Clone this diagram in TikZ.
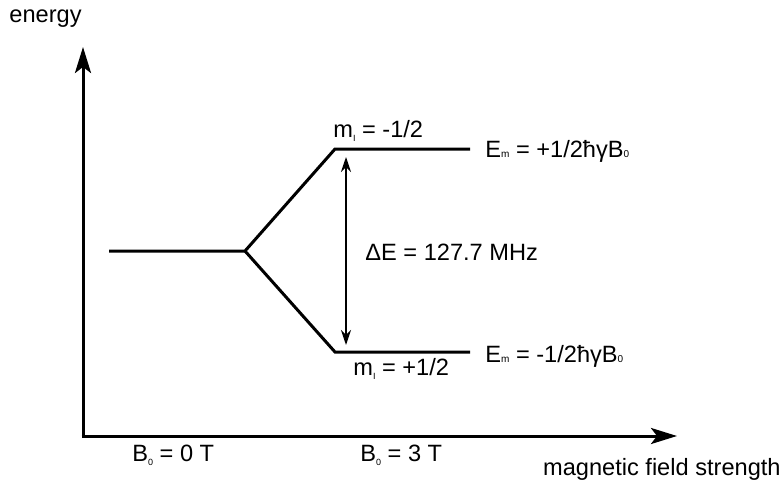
\documentclass[tikz,border=0pt]{standalone}
\usepackage{fontspec}
\setmainfont{Liberation Sans}
\usetikzlibrary{arrows.meta,positioning}

% tiny subscripts as in the figure
\newcommand{\lowsub}[1]{\raisebox{-0.35ex}{\fontsize{4.5pt}{5pt}\selectfont #1}}
\newcommand{\flatsub}[1]{{\fontsize{5pt}{5pt}\selectfont #1}}

\begin{document}
\begin{tikzpicture}[x=0.5pt, y=-0.5pt,
      lbl/.style={inner sep=0pt, font=\fontsize{11.8pt}{13pt}\selectfont},
      axis/.style={line width=1.5pt, -{Stealth[length=13pt, width=8pt, inset=3pt]}},
      level/.style={line width=1.5pt, line join=miter},
      gap/.style={line width=0.75pt, {Stealth[length=7.5pt, width=5pt]}-{Stealth[length=7.5pt, width=5pt]}}
    ]
    \useasboundingbox (0,0) rectangle (783,482);
    % axes
    \coordinate (origin) at (83,436);
    \coordinate (ytip) at (83,47);
    \coordinate (xtip) at (677,436);
    \draw[axis] ([yshift=-0.75pt]origin) -- (ytip);
    \draw[axis] ([xshift=-0.75pt]origin) -- (xtip);
    \node[lbl, anchor=base east] (yname) at (82,23) {energy};
    \node[lbl, anchor=base east] (xname) at (781,475) {magnetic field strength};
    \node[lbl, anchor=base west] (bzero) at (132,461) {B\lowsub{0} = 0 T};
    \node[lbl, anchor=base west] (bthree) at (360,461) {B\lowsub{0} = 3 T};
    % splitting of the levels
    \coordinate (free) at (109,251);
    \coordinate (split) at (245,251);
    \coordinate (upL) at (335,149);
    \coordinate (upR) at (470,149);
    \coordinate (loL) at (335,352);
    \coordinate (loR) at (470,352);
    \draw[level] (free) -- (split) -- (upL) -- (upR);
    \draw[level] (split) -- (loL) -- (loR);
    \coordinate (gapTop) at (346,157);
    \coordinate (gapBot) at (346,345);
    \draw[gap] (gapTop) -- (gapBot);
    \node[lbl, anchor=base west] (dE) at (365,260) {ΔE = 127.7 MHz};
    \node[lbl, anchor=base west] (mup) at (333,137) {m\lowsub{I} = -1/2};
    \node[lbl, anchor=base west] (mlo) at (353,375) {m\lowsub{I} = +1/2};
    \node[lbl, anchor=base west] (Eup) at (485,157) {E\flatsub{m} = +1/2ħγB\flatsub{0}};
    \node[lbl, anchor=base west] (Elo) at (485,362) {E\flatsub{m} = -1/2ħγB\flatsub{0}};
  \end{tikzpicture}
\end{document}
